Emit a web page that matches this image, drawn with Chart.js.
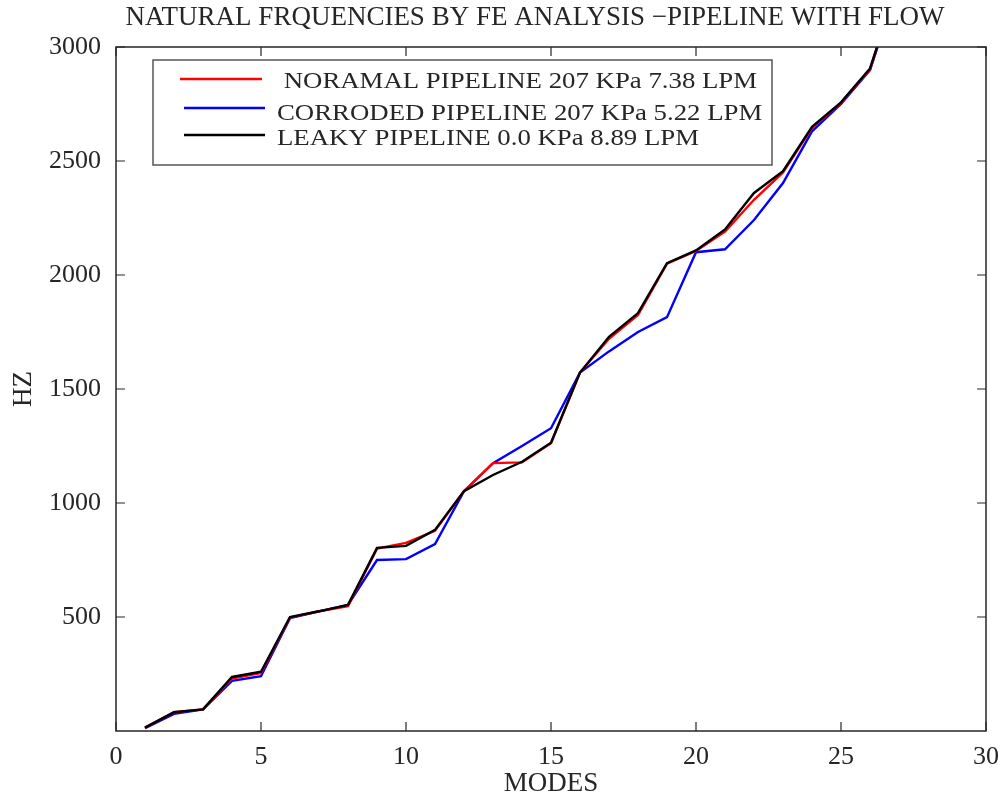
<!DOCTYPE html>
<html>
<head>
<meta charset="utf-8">
<script src="https://cdn.jsdelivr.net/npm/chart.js@4.4.1/dist/chart.umd.min.js"></script>
<style>
    html, body { margin: 0; padding: 0; background: #fff; }
    #wrap { width: 999px; height: 800px; }
</style>
</head>
<body>
<div id="wrap"><canvas id="chart" width="999" height="800"></canvas></div>
<script>
const modes = [1, 2, 3, 4, 5, 6, 7, 8, 9, 10, 11, 12, 13, 14, 15, 16, 17, 18, 19, 20, 21, 22, 23, 24, 25, 26, 27];
const normalHz = [15, 83, 95, 230, 255, 498, 525, 548, 800, 825, 878, 1052, 1175, 1178, 1262, 1572, 1720, 1825, 2050, 2105, 2190, 2330, 2450, 2645, 2755, 2902, 3290];
const corrodedHz = [12, 75, 95, 220, 240, 495, 525, 553, 750, 754, 820, 1052, 1175, 1250, 1328, 1572, 1665, 1750, 1815, 2100, 2113, 2241, 2403, 2630, 2750, 2898, 3290];
const leakyHz = [15, 83, 95, 237, 260, 500, 525, 553, 803, 812, 882, 1052, 1123, 1181, 1264, 1572, 1729, 1833, 2052, 2108, 2200, 2360, 2455, 2650, 2757, 2906, 3296];
const xTicks = [0, 5, 10, 15, 20, 25, 30];
const yTicks = [500, 1000, 1500, 2000, 2500, 3000];

const titleText = 'NATURAL FRQUENCIES BY FE ANALYSIS \u2212PIPELINE WITH FLOW';
const seriesLabels = [' NORAMAL PIPELINE 207 KPa 7.38 LPM', 'CORRODED PIPELINE 207 KPa 5.22 LPM', 'LEAKY PIPELINE 0.0 KPa 8.89 LPM'];
const FONT = '"Liberation Serif", "Times New Roman", serif';
const INK = '#262626';

const toPoints = values => values.map((v, i) => ({ x: modes[i], y: v }));

const frame = {
    id: 'frame',
    afterDraw(chart) {
        const { ctx, chartArea: a, scales } = chart;
        ctx.save();

        // title, centred a little left of the plot centre like the original
        ctx.fillStyle = INK;
        ctx.font = `27px ${FONT}`;
        ctx.textAlign = 'center';
        ctx.textBaseline = 'alphabetic';
        ctx.fillText(titleText, 535, 25);

        ctx.strokeStyle = INK;
        ctx.lineWidth = 1.5;
        ctx.strokeRect(a.left, a.top, a.right - a.left, a.bottom - a.top);

        ctx.lineWidth = 1.2;
        ctx.beginPath();
        xTicks.forEach(t => {
            const x = scales.x.getPixelForValue(t);
            ctx.moveTo(x, a.bottom); ctx.lineTo(x, a.bottom - 9);
            ctx.moveTo(x, a.top); ctx.lineTo(x, a.top + 9);
        });
        yTicks.forEach(t => {
            const y = scales.y.getPixelForValue(t);
            ctx.moveTo(a.left, y); ctx.lineTo(a.left + 9, y);
            ctx.moveTo(a.right, y); ctx.lineTo(a.right - 9, y);
        });
        ctx.stroke();

        // legend box
        const bx = 153, by = 60, bw = 619, bh = 105;
        ctx.fillStyle = '#fff';
        ctx.fillRect(bx, by, bw, bh);
        ctx.strokeStyle = '#555';
        ctx.lineWidth = 1.5;
        ctx.strokeRect(bx, by, bw, bh);

        const rows = [
            { lineY: 79, x1: 180, x2: 262, textX: 277, baseY: 88 },
            { lineY: 108, x1: 184, x2: 265, textX: 277, baseY: 120 },
            { lineY: 135, x1: 184, x2: 265, textX: 277, baseY: 145 },
        ];
        ctx.font = `23px ${FONT}`;
        ctx.textAlign = 'left';
        rows.forEach((row, i) => {
            const ds = chart.data.datasets[i];
            ctx.strokeStyle = ds.borderColor;
            ctx.lineWidth = 2.4;
            ctx.beginPath();
            ctx.moveTo(row.x1, row.lineY); ctx.lineTo(row.x2, row.lineY);
            ctx.stroke();
            ctx.fillStyle = INK;
            ctx.save();
            ctx.translate(row.textX, row.baseY);
            ctx.scale(1.165, 1);
            ctx.fillText(ds.label, 0, 0);
            ctx.restore();
        });
        ctx.restore();
    },
};

new Chart(document.getElementById('chart'), {
    type: 'line',
    data: {
        datasets: [
            { label: seriesLabels[0], data: toPoints(normalHz), borderColor: '#ff0000', order: 1 },
            { label: seriesLabels[1], data: toPoints(corrodedHz), borderColor: '#0000ff', order: 2 },
            { label: seriesLabels[2], data: toPoints(leakyHz), borderColor: '#000000', order: 0 },
        ],
    },
    options: {
        responsive: false,
        animation: false,
        devicePixelRatio: 1,
        layout: { padding: { left: 0, right: 0, top: 47, bottom: 0 } },
        elements: {
            line: { borderWidth: 2.4, tension: 0, fill: false },
            point: { radius: 0 },
        },
        plugins: {
            legend: { display: false },
            tooltip: { enabled: false },
            title: { display: false },
        },
        scales: {
            x: {
                type: 'linear',
                min: 0,
                max: 30,
                afterFit: scale => {
                    scale.height = 69;
                    scale.paddingRight = 13;
                    scale.paddingLeft = 0;
                },
                afterBuildTicks: scale => { scale.ticks = xTicks.map(v => ({ value: v })); },
                grid: { display: false, drawTicks: false },
                border: { display: false },
                ticks: { color: INK, padding: 11, font: { family: FONT, size: 26 } },
                title: {
                    display: true,
                    text: 'MODES',
                    color: INK,
                    padding: { top: 0, bottom: 0 },
                    font: { family: FONT, size: 27 },
                },
            },
            y: {
                type: 'linear',
                min: 0,
                max: 3000,
                afterFit: scale => { scale.width = 116; },
                afterBuildTicks: scale => { scale.ticks = yTicks.map(v => ({ value: v })); },
                grid: { display: false, drawTicks: false },
                border: { display: false },
                ticks: { color: INK, padding: 15, font: { family: FONT, size: 26 }, callback: v => String(v) },
                title: {
                    display: true,
                    text: 'HZ',
                    color: INK,
                    padding: { top: 8, bottom: 0 },
                    font: { family: FONT, size: 27 },
                },
            },
        },
    },
    plugins: [frame],
});
</script>
</body>
</html>
